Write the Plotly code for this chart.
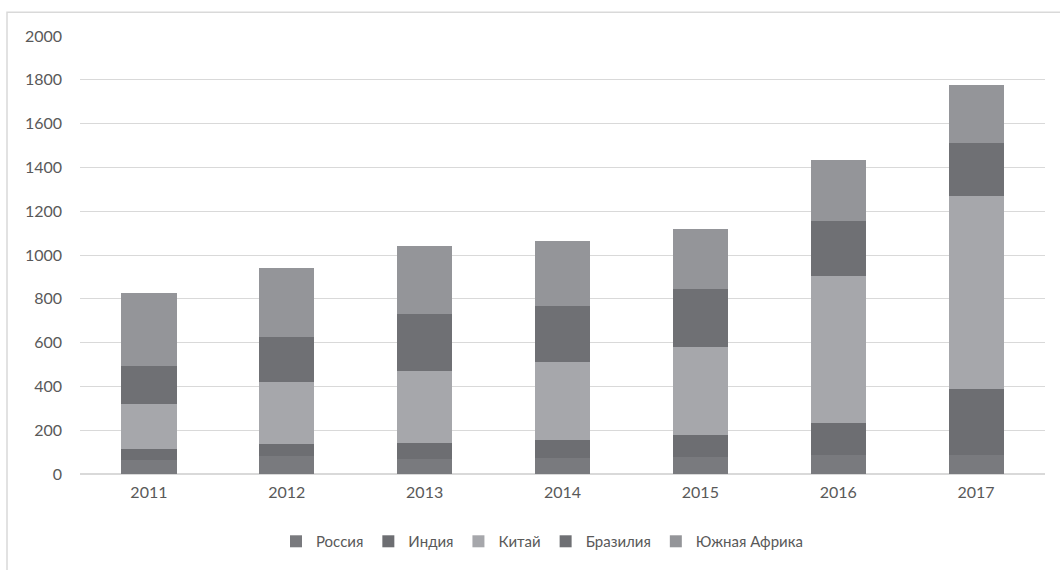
import plotly.graph_objects as go

years = ["2011", "2012", "2013", "2014", "2015", "2016", "2017"]
russia = [65, 82, 68, 73, 77, 86, 86]
india = [48, 54, 72, 81, 100, 145, 304]
china = [207, 284, 330, 356, 403, 674, 880]
brazil = [175, 205, 260, 255, 265, 250, 240]
south_africa = [330, 315, 310, 300, 275, 280, 265]

series = [
    ("Россия", russia, "#797a7e"),
    ("Индия", india, "#6d6e72"),
    ("Китай", china, "#a6a7ab"),
    ("Бразилия", brazil, "#6f7074"),
    ("Южная Африка", south_africa, "#949599"),
]

fig = go.Figure()
for name, vals, col in series:
    fig.add_trace(go.Bar(x=years, y=vals, name=name, marker=dict(color=col, line=dict(width=0))))

W, H = 1060, 570
ml, mr, mt, mb = 80, 15, 36, 93
pw, ph = W - ml - mr, H - mt - mb

fig.update_layout(
    width=W, height=H,
    barmode="stack", bargap=0.6,
    margin=dict(l=ml, r=mr, t=mt, b=mb),
    paper_bgcolor="white", plot_bgcolor="white",
    font=dict(family="Lato, 'Open Sans', sans-serif", size=16, color="#595959"),
    xaxis=dict(showgrid=False, showline=True, linecolor="#d9d9d9", ticks="", ticklabelstandoff=4,
               tickfont=dict(size=16)),
    yaxis=dict(range=[0, 2000], dtick=200, showgrid=True, gridcolor="#d9d9d9",
               zeroline=True, zerolinecolor="#d9d9d9", ticks="", ticklabelstandoff=17,
               tickfont=dict(size=16)),
    legend=dict(orientation="h", x=(542 - ml) / pw, xanchor="center",
                y=(mt + ph - 545) / ph, yanchor="middle", traceorder="normal",
                font=dict(size=15, color="#595959")),
    shapes=[dict(type="rect", xref="paper", yref="paper",
                 x0=(7 - ml) / pw, x1=(1075 - ml) / pw,
                 y0=(mt + ph - 600) / ph, y1=(mt + ph - 12) / ph,
                 line=dict(color="#d9d9d9", width=1.5), layer="below")],
)

fig.write_html("out.html")
